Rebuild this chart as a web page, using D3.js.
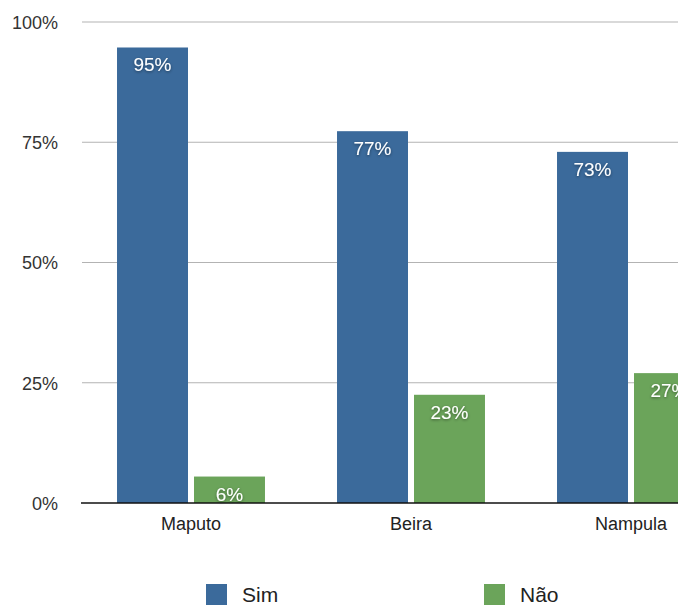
<!DOCTYPE html>
<html><head><meta charset="utf-8">
<script src="https://cdn.jsdelivr.net/npm/d3@7"></script>
<style>html,body{margin:0;padding:0;background:#fff;overflow:hidden}</style>
</head><body>
<svg id="c" width="678" height="605"></svg>
<script>
const categories = ["Maputo", "Beira", "Nampula"];
const seriesNames = ["Sim", "Não"];
const simValues = [0.947, 0.773, 0.73];
const naoValues = [0.055, 0.225, 0.27];
const simLabels = ["95%", "77%", "73%"];
const naoLabels = ["6%", "23%", "27%"];
const yTicks = [0, 0.25, 0.5, 0.75, 1];
const yTickLabels = ["0%", "25%", "50%", "75%", "100%"];
const colors = ["#3b6a9b", "#6ba45a"];

const svg = d3.select("#c");
const font = "'Liberation Sans', Helvetica, Arial, sans-serif";
const defs = svg.append("defs");
const f = defs.append("filter").attr("id","ts").attr("x","-30%").attr("y","-30%").attr("width","160%").attr("height","160%");
f.append("feDropShadow").attr("dx",0).attr("dy",1).attr("stdDeviation",1.5).attr("flood-color","#000").attr("flood-opacity",0.45);

const x0 = d3.scaleBand().domain(categories).range([81, 741]).paddingInner(0).paddingOuter(0);
const x1 = d3.scaleBand().domain(seriesNames).range([0, x0.bandwidth()]).paddingInner(0.078).paddingOuter(0.468);
const y = d3.scaleLinear().domain([0, 1]).range([503, 22]);

// gridlines
svg.append("g").selectAll("line").data(yTicks.filter(d => d > 0)).join("line")
  .attr("x1", 82).attr("x2", 678).attr("y1", d => y(d)).attr("y2", d => y(d))
  .attr("stroke", "#b3b3b3").attr("stroke-width", 1.2);

// y axis labels
const yAxis = d3.axisLeft(y).tickValues(yTicks).tickSize(0).tickPadding(0)
  .tickFormat((d, i) => yTickLabels[i]);
const ya = svg.append("g").attr("transform", "translate(58,0)").call(yAxis);
ya.select(".domain").remove();
ya.selectAll("text").attr("font-family", font).attr("font-size", 18).attr("fill", "#333").attr("dy", "0.35em");

const data = categories.map((c, i) => ({c, vals: [
  {s: seriesNames[0], v: simValues[i], l: simLabels[i]},
  {s: seriesNames[1], v: naoValues[i], l: naoLabels[i]}]}));

const g = svg.append("g").selectAll("g").data(data).join("g")
  .attr("transform", d => `translate(${x0(d.c)},0)`);
g.selectAll("rect").data(d => d.vals).join("rect")
  .attr("x", d => x1(d.s)).attr("width", x1.bandwidth())
  .attr("y", d => y(d.v)).attr("height", d => y(0) - y(d.v))
  .attr("fill", (d, i) => colors[i]);
g.selectAll("text").data(d => d.vals).join("text")
  .attr("x", d => x1(d.s) + x1.bandwidth() / 2)
  .attr("y", d => y(d.v) + 24)
  .attr("text-anchor", "middle").attr("font-family", font).attr("font-size", 19)
  .attr("fill", "#fff").attr("filter", "url(#ts)").text(d => d.l);

// baseline
svg.append("line").attr("x1", 81).attr("x2", 678).attr("y1", y(0)).attr("y2", y(0))
  .attr("stroke", "#111").attr("stroke-width", 1.5);

// x axis labels
const xAxis = d3.axisBottom(x0).tickSize(0).tickPadding(0);
const xa = svg.append("g").attr("transform", `translate(0,${y(0)})`).call(xAxis);
xa.select(".domain").remove();
xa.selectAll("text").attr("font-family", font).attr("font-size", 18).attr("fill", "#222")
  .attr("dy", null).attr("y", 27);

// legend
const legendX = [206, 484];
const lg = svg.append("g").selectAll("g").data(seriesNames).join("g")
  .attr("transform", (d, i) => `translate(${legendX[i]},584)`);
lg.append("rect").attr("width", 21).attr("height", 21).attr("fill", (d, i) => colors[i]);
lg.append("text").attr("x", 36).attr("y", 18).attr("font-family", font).attr("font-size", 21)
  .attr("fill", "#222").text(d => d);
</script>
</body></html>
